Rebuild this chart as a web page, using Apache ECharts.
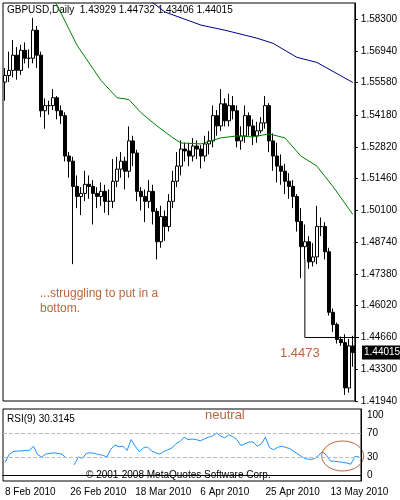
<!DOCTYPE html>
<html><head><meta charset="utf-8">
<script src="https://cdn.jsdelivr.net/npm/echarts@6/dist/echarts.min.js"></script>
<style>html,body{margin:0;padding:0;background:#fff}#c{width:400px;height:500px}</style>
</head><body><div id="c"></div>
<script>
const dateLabels = ['8 Feb 2010','26 Feb 2010','18 Mar 2010','6 Apr 2010','25 Apr 2010','13 May 2010'];
const priceTicks = [1.41940,1.43300,1.44660,1.46020,1.47380,1.48740,1.50100,1.51460,1.52820,1.54180,1.55580,1.56940,1.58300];
const firstOpen = 1.5560;
const closes = [1.5588,1.5610,1.5675,1.5610,1.5696,1.5662,1.5662,1.5782,1.5675,1.5437,1.5459,1.5459,1.5493,1.5437,1.5416,1.5243,1.5221,1.5113,1.5070,1.5083,1.5122,1.5113,1.5083,1.5070,1.5092,1.5049,1.5049,1.5135,1.5187,1.5221,1.5178,1.5308,1.5256,1.5092,1.5070,1.5049,1.5092,1.5006,1.4876,1.4984,1.4941,1.5049,1.5135,1.5200,1.5273,1.5265,1.5243,1.5286,1.5273,1.5243,1.5295,1.5308,1.5416,1.5372,1.5467,1.5394,1.5459,1.5437,1.5308,1.5329,1.5416,1.5372,1.5329,1.5351,1.5385,1.5459,1.5308,1.5243,1.5200,1.5178,1.5135,1.5113,1.5070,1.4963,1.4855,1.4876,1.4790,1.4811,1.4941,1.4941,1.4833,1.4574,1.4522,1.4457,1.4444,1.4250,1.4430,1.4402];
const highs = [1.5620,1.5690,1.5740,1.5710,1.5720,1.5730,1.5700,1.5835,1.5800,1.5690,1.5490,1.5480,1.5530,1.5500,1.5460,1.5430,1.5260,1.5240,1.5160,1.5110,1.5180,1.5160,1.5140,1.5110,1.5130,1.5120,1.5100,1.5230,1.5240,1.5260,1.5240,1.5370,1.5330,1.5270,1.5110,1.5100,1.5140,1.5120,1.5020,1.5030,1.5010,1.5080,1.5180,1.5260,1.5310,1.5300,1.5300,1.5320,1.5310,1.5290,1.5330,1.5350,1.5460,1.5440,1.5530,1.5490,1.5510,1.5500,1.5460,1.5370,1.5460,1.5430,1.5400,1.5390,1.5410,1.5500,1.5470,1.5340,1.5300,1.5250,1.5210,1.5170,1.5140,1.5080,1.5020,1.4950,1.4900,1.4870,1.5030,1.4980,1.4960,1.4850,1.4590,1.4530,1.4470,1.4480,1.4460,1.4473];
const lows = [1.5480,1.5560,1.5580,1.5570,1.5590,1.5640,1.5620,1.5640,1.5620,1.5410,1.5360,1.5420,1.5440,1.5400,1.5380,1.5220,1.5150,1.4780,1.5020,1.4990,1.5050,1.5060,1.4950,1.5020,1.5030,1.5000,1.4990,1.5020,1.5110,1.5150,1.5100,1.5150,1.5200,1.5050,1.5010,1.4960,1.5020,1.4950,1.4800,1.4850,1.4880,1.4920,1.5020,1.5110,1.5160,1.5220,1.5200,1.5220,1.5230,1.5190,1.5220,1.5250,1.5280,1.5330,1.5350,1.5370,1.5370,1.5400,1.5280,1.5270,1.5300,1.5330,1.5290,1.5300,1.5340,1.5360,1.5260,1.5180,1.5130,1.5120,1.5080,1.5060,1.5020,1.4920,1.4720,1.4800,1.4760,1.4770,1.4780,1.4900,1.4800,1.4560,1.4490,1.4440,1.4430,1.4220,1.4230,1.4341];
const maFastPts = {10:1.5955,13:1.5890,18:1.5718,24:1.5567,28:1.5493,31:1.5485,34:1.5429,38:1.5372,42:1.5321,44:1.5299,49:1.5295,54:1.5321,58:1.5329,62:1.5325,66:1.5338,70:1.5321,74:1.5243,78:1.5200,82:1.5113,87:1.4993};
const maSlowPts = {34:1.5934,36:1.5912,40:1.5860,49:1.5804,55:1.5782,63:1.5748,67:1.5726,73:1.5666,78:1.5644,87:1.5558};
const rsi = [21,34,39,40,40,41,41,48,34,30,35,36,37,36,35,28,null,17,30,28,36,37,36,34,33,30,43,50,47,48,41,59,48,39,45,47,40,37,35,39,42,45,52,56,63,59,60,59,57,60,63,65,70,65,62,67,64,59,49,52,55,55,48,52,63,46,42,46,48,46,44,39,35,30,27,26,27,32,39,33,23,23,22,21,20,18,31,30];
const rsiTicks = [0,30,70,100];
const lastPrice = 1.44015, levelPrice = 1.4466;

const n = closes.length;
const cats = closes.map((_, i) => i);
const candles = closes.map((c, i) => [i === 0 ? firstOpen : closes[i-1], c, lows[i], highs[i]]);
const maFast = cats.map(i => maFastPts[i] ?? null);
const maSlow = cats.map(i => maSlowPts[i] ?? null);
const labelIdx = {0:dateLabels[0],16:dateLabels[1],32:dateLabels[2],48:dateLabels[3],64:dateLabels[4],80:dateLabels[5]};
const brown = '#b8663c';
const F = 'Liberation Sans, Arial, sans-serif';

const chart = echarts.init(document.getElementById('c'));
chart.setOption({
  animation:false,
  grid:[{left:3,right:39,top:3,height:398,show:true,borderColor:'#000',borderWidth:1},
        {left:3,right:39,top:409,height:72,show:true,borderColor:'#000',borderWidth:1}],
  xAxis:[{type:'category',data:cats,gridIndex:0,boundaryGap:true,axisLine:{show:false},axisTick:{show:false},axisLabel:{show:false}},
         {type:'category',data:cats,gridIndex:1,boundaryGap:true,axisLine:{lineStyle:{color:'#000'}},
          axisTick:{interval:i=>labelIdx[i]!==undefined,length:4,lineStyle:{color:'#000'}},
          axisLabel:{interval:0,formatter:v=>labelIdx[v]||'',align:'left',margin:6,fontSize:10,color:'#000',fontFamily:F}}],
  yAxis:[{type:'value',gridIndex:0,position:'right',min:1.4194,max:1.58985,splitLine:{show:false},
          axisLine:{show:true,lineStyle:{color:'#000'}},axisTick:{show:true,length:3,customValues:priceTicks,lineStyle:{color:'#000'}},
          axisLabel:{customValues:priceTicks,formatter:v=>v.toFixed(5),fontSize:10,color:'#000',margin:6,fontFamily:F}},
         {type:'value',gridIndex:1,position:'right',min:-10,max:110,splitLine:{show:false},
          axisLine:{show:true,lineStyle:{color:'#000'}},axisTick:{show:false},
          axisLabel:{customValues:rsiTicks,fontSize:10,color:'#000',margin:6,fontFamily:F}}],
  series:[
    {type:'candlestick',xAxisIndex:0,yAxisIndex:0,data:candles,barWidth:3,
     itemStyle:{color:'#fff',color0:'#000',borderColor:'#000',borderColor0:'#000',borderWidth:1}},
    {type:'line',xAxisIndex:0,yAxisIndex:0,data:maFast,connectNulls:true,showSymbol:false,lineStyle:{color:'#008000',width:1},clip:true},
    {type:'line',xAxisIndex:0,yAxisIndex:0,data:maSlow,connectNulls:true,showSymbol:false,lineStyle:{color:'#000080',width:1},clip:true},
    {type:'line',xAxisIndex:1,yAxisIndex:1,data:rsi,showSymbol:false,lineStyle:{color:'#1e90ff',width:1},
     markLine:{silent:true,symbol:'none',label:{show:false},lineStyle:{color:'#bbb',type:'dashed',width:1},data:[{yAxis:70},{yAxis:30}]}}
  ]
});
const p = (i, v) => chart.convertToPixel({xAxisIndex:0,yAxisIndex:0},[i,v]);
const lv = p(75, levelPrice), lt = p(75, 1.4800), lastPx = p(n-1, lastPrice);
const r30 = chart.convertToPixel({xAxisIndex:1,yAxisIndex:1},[83,30]);
chart.setOption({graphic:[
  {type:'text',left:7,top:5,style:{text:'GBPUSD,Daily  1.43929 1.44732 1.43406 1.44015',fontSize:10,fill:'#000',fontFamily:F}},
  {type:'line',shape:{x1:lv[0],y1:lt[1],x2:lv[0],y2:lv[1]},style:{stroke:'#000',lineWidth:1}},
  {type:'line',shape:{x1:lv[0],y1:lv[1],x2:359,y2:lv[1]},style:{stroke:'#000',lineWidth:1}},
  {type:'text',x:280,y:lv[1]+9,style:{text:'1.4473',fontSize:13,fill:brown,fontFamily:F}},
  {type:'text',x:40,y:286,style:{text:'...struggling to put in a\nbottom.',fontSize:12,lineHeight:15,fill:brown,fontFamily:F}},
  {type:'rect',shape:{x:362,y:lastPx[1]-7,width:38,height:14},style:{fill:'#000'}},
  {type:'text',x:364,y:lastPx[1]-5,style:{text:'1.44015',fontSize:10,fill:'#fff',fontFamily:F}},
  {type:'text',x:7,y:414,style:{text:'RSI(9) 30.3145',fontSize:10,fill:'#000',fontFamily:F}},
  {type:'text',x:205,y:409,style:{text:'neutral',fontSize:13,fill:brown,fontFamily:F}},
  {type:'text',x:86,y:470,style:{text:'© 2001-2008 MetaQuotes Software Corp.',fontSize:10,fill:'#000',fontFamily:F}},
  {type:'ellipse',shape:{cx:r30[0],cy:r30[1]-1,rx:21,ry:15},style:{fill:'none',stroke:brown,lineWidth:1}}
]});
</script></body></html>
